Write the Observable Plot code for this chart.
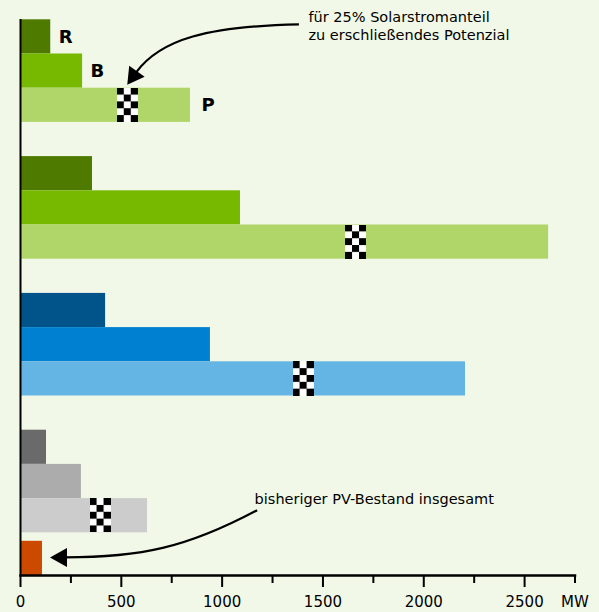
<!DOCTYPE html>
<html><head><meta charset="utf-8">
<script src="https://cdn.jsdelivr.net/npm/d3@7"></script>
<script src="https://cdn.jsdelivr.net/npm/@observablehq/plot@0.6"></script>
<style>
html,body{margin:0;padding:0;background:#f1f8e7;}
</style></head><body><div id="chart"></div>
<script>
// ---- data ----
const groups = ["G1", "G2", "G3", "G4"];
const types = ["R", "B", "P"];
const valuesR = [150, 357, 422, 129];
const valuesB = [308, 1091, 942, 302];
const valuesP = [843, 2619, 2207, 630];
const potential25 = [532, 1664, 1404, 397];   // checker marker: 25% share
const bestandLabel = "Bestand";
const bestand = 109;
const majorTicks = [0, 500, 1000, 1500, 2000, 2500];
const minorTicks = [250, 750, 1250, 1750, 2250, 2750];
const unitLabel = "MW";
const noteTop = "für 25% Solarstromanteil\nzu erschließendes Potenzial";
const noteBottom = "bisheriger PV-Bestand insgesamt";

// ---- styles ----
const palette = [
  ["#4e7a00", "#77b800", "#b0d66a"],
  ["#4e7a00", "#77b800", "#b0d66a"],
  ["#00548a", "#0080d0", "#64b4e4"],
  ["#6a6a6a", "#acacac", "#cccccc"]
];
const orange = "#cc4a00";
const bg = "#f1f8e7";

// ---- build table ----
const series = [valuesR, valuesB, valuesP];
const rows = [];
const yDomain = [];
groups.forEach((g, i) => {
  types.forEach((t, j) => {
    const key = `${g}-${t}`;
    yDomain.push(key);
    rows.push({key, group: g, type: t, value: series[j][i], color: palette[i][j]});
  });
  if (i < groups.length - 1) yDomain.push(`${g}-gap`);
});
yDomain.push(bestandLabel);
const markers = groups.map((g, i) => ({key: `${g}-P`, value: potential25[i]}));
const letterRows = rows.filter(d => d.group === "G1");

// ---- pattern defs ----
const defs = () => {
  const d = d3.create("svg:defs");
  const p = d.append("pattern").attr("id", "checker")
    .attr("patternUnits", "objectBoundingBox").attr("patternContentUnits", "objectBoundingBox")
    .attr("width", 1).attr("height", 1);
  p.append("rect").attr("width", 1).attr("height", 1).attr("fill", "white");
  for (let r = 0; r < 5; r++) for (let c = 0; c < 3; c++) {
    if ((r + c) % 2 === 0) p.append("rect").attr("x", c / 3).attr("y", r / 5)
      .attr("width", 1 / 3 + 0.002).attr("height", 1 / 5 + 0.002).attr("fill", "black");
  }
  return d.node();
};

// ---- annotation arrows ----
function norm(x, y) { const l = Math.hypot(x, y); return [x / l, y / l]; }
function arrowPath(g, S, dS, k1, T, dT, k2, hl, hw) {
  const B = [T[0] - dT[0] * hl, T[1] - dT[1] * hl];
  const C1 = [S[0] + dS[0] * k1, S[1] + dS[1] * k1];
  const C2 = [B[0] - dT[0] * k2, B[1] - dT[1] * k2];
  g.append("path").attr("d", `M${S}C${C1} ${C2} ${B[0] + dT[0] * 2},${B[1] + dT[1] * 2}`)
    .attr("fill", "none").attr("stroke", "black").attr("stroke-width", 2.2);
  const px = -dT[1], py = dT[0];
  g.append("path").attr("d", `M${T}L${B[0] + px * hw / 2},${B[1] + py * hw / 2}L${B[0] - px * hw / 2},${B[1] - py * hw / 2}Z`)
    .attr("fill", "black");
}
const arrows = (index, scales) => {
  const sx = scales.x, sy = scales.y;
  const bw = sy.bandwidth ? sy.bandwidth() : 34.2;
  const g = d3.create("svg:g");
  // top arrow -> checker of first group
  const T1 = [sx(potential25[0]), sy("G1-P") - 3];
  const S1 = [sx(1428) - 9, sy("G1-R") + bw / 2 - 12];
  arrowPath(g, S1, norm(-1, 0.02), 90, T1, norm(-9, 12.5), 40, 16.5, 19);
  // bottom arrow -> Bestand
  const T2 = [sx(bestand) + 8, sy(bestandLabel) + bw / 2 + 8];
  const S2 = [sx(1161) + 3, sy("G4-P") + bw / 2 - 5];
  arrowPath(g, S2, norm(-0.88, 0.47), 80, T2, [-1, 0], 73, 17, 19);
  return g.node();
};

const fmt = d => String(d);

const chart = Plot.plot({
  width: 599, height: 612,
  marginTop: 19, marginBottom: 37, marginLeft: 20, marginRight: 24.5,
  style: {background: bg, fontFamily: "DejaVu Sans", color: "black", overflow: "visible"},
  x: {domain: [0, 2750]},
  y: {type: "band", domain: yDomain, range: [19.3, 566.5], padding: 0, round: false, axis: null},
  color: {type: "identity"},
  marks: [
    defs,
    Plot.barX(rows, {x: "value", y: "key", fill: "color"}),
    Plot.barX([{key: bestandLabel, value: bestand}], {x: "value", y: "key", fill: orange, dy: 8.5}),
    Plot.barX(markers, {x1: "value", x2: "value", y: "key", fill: "url(#checker)", insetLeft: -10.5, insetRight: -10.5, shapeRendering: "crispEdges"}),
    Plot.ruleX([0], {stroke: "black", strokeWidth: 2}),
    Plot.frame({anchor: "bottom", stroke: "black", strokeWidth: 2.5}),
    Plot.axisX({ticks: majorTicks, tickSize: 12, tickPadding: 9, tickFormat: fmt, fontSize: 15, strokeWidth: 2, label: null}),
    Plot.axisX({ticks: minorTicks, tickSize: 8, tickFormat: () => "", strokeWidth: 2, label: null}),
    Plot.axisX({ticks: [2750], tickSize: 0, tickPadding: 21, tickFormat: () => unitLabel, fontSize: 15, label: null}),
    Plot.text(letterRows.filter(d => d.type !== "P"), {x: "value", y: "key", text: "type", textAnchor: "start", dx: 8, fontWeight: "bold", fontSize: 18, fill: "black", stroke: "none"}),
    Plot.text(letterRows.filter(d => d.type === "P"), {x: "value", y: "key", text: "type", textAnchor: "start", dx: 11, fontWeight: "bold", fontSize: 18, fill: "black", stroke: "none"}),
    Plot.text([{text: noteTop, y: "G1-R"}], {x: () => 1428, y: "y", text: "text", textAnchor: "start", lineAnchor: "middle", lineHeight: 1.24, fontSize: 14.5, dy: -11.5, fill: "black"}),
    Plot.text([{text: noteBottom, y: "G4-P"}], {x: () => 1161, y: "y", text: "text", textAnchor: "start", lineAnchor: "middle", fontSize: 14.5, dy: -16, fill: "black"}),
    arrows
  ]
});
document.getElementById("chart").appendChild(chart);
</script></body></html>
